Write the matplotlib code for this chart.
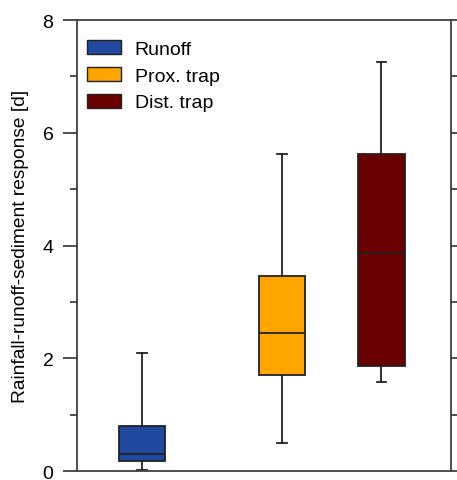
import matplotlib
matplotlib.use('Agg')
import matplotlib.pyplot as plt
from matplotlib.patches import Patch
from matplotlib.ticker import MultipleLocator

plt.rcParams['font.family'] = ['Liberation Sans', 'DejaVu Sans']

# Box statistics per source (days)
labels = ['Runoff', 'Prox. trap', 'Dist. trap']
whislo = [0.01, 0.50, 1.58]
q1 = [0.17, 1.70, 1.87]
med = [0.30, 2.44, 3.87]
q3 = [0.80, 3.46, 5.62]
whishi = [2.09, 5.62, 7.25]
positions = [1.0, 2.0, 2.71]
colors = ['#2149A0', '#FFA500', '#6B0000']

edge = '#222222'
axcol = '#404040'

fig = plt.figure(figsize=(4.57, 4.81), dpi=100)
ax = fig.add_axes([0.1685, 0.0187, 0.8185, 0.9376])

stats = []
for i, lab in enumerate(labels):
    stats.append({'label': lab, 'whislo': whislo[i], 'q1': q1[i], 'med': med[i],
                  'q3': q3[i], 'whishi': whishi[i], 'fliers': []})

bp = ax.bxp(stats, positions=positions, widths=0.33, capwidths=0.07,
            patch_artist=True, showfliers=False,
            boxprops=dict(edgecolor=edge, linewidth=1.3),
            medianprops=dict(color=edge, linewidth=1.3),
            whiskerprops=dict(color=edge, linewidth=1.3),
            capprops=dict(color=edge, linewidth=1.3))
for box, c in zip(bp['boxes'], colors):
    box.set_facecolor(c)

ax.set_xlim(0.536, 3.207)
ax.set_ylim(0, 8)
ax.set_xticks([])
ax.yaxis.set_major_locator(MultipleLocator(2))
ax.yaxis.set_minor_locator(MultipleLocator(1))
ax.tick_params(axis='y', which='major', direction='out', length=10, width=1.3,
               color=axcol, labelsize=14, pad=7)
ax.tick_params(axis='y', which='minor', direction='out', length=5, width=1.3,
               color=axcol)
for s in ax.spines.values():
    s.set_color(axcol)
    s.set_linewidth(1.3)

# right-side ticks: short outward, no labels
ax2 = ax.twinx()
ax2.set_ylim(0, 8)
ax2.yaxis.set_major_locator(MultipleLocator(1))
ax2.tick_params(axis='y', direction='out', length=6, width=1.3, color=axcol,
                labelright=False)
for s in ax2.spines.values():
    s.set_visible(False)

ax.set_ylabel('Rainfall-runoff-sediment response [d]', fontsize=13.8, labelpad=10)

handles = [Patch(facecolor=c, edgecolor=edge, linewidth=1.0) for c in colors]
ax.legend(handles, labels, loc='upper left', frameon=False, fontsize=14,
          handlelength=1.7, handleheight=0.72, handletextpad=0.72,
          labelspacing=0.46, borderaxespad=0.0, borderpad=0.0,
          bbox_to_anchor=(0.028, 0.955))

fig.savefig('out.png', dpi=100)
